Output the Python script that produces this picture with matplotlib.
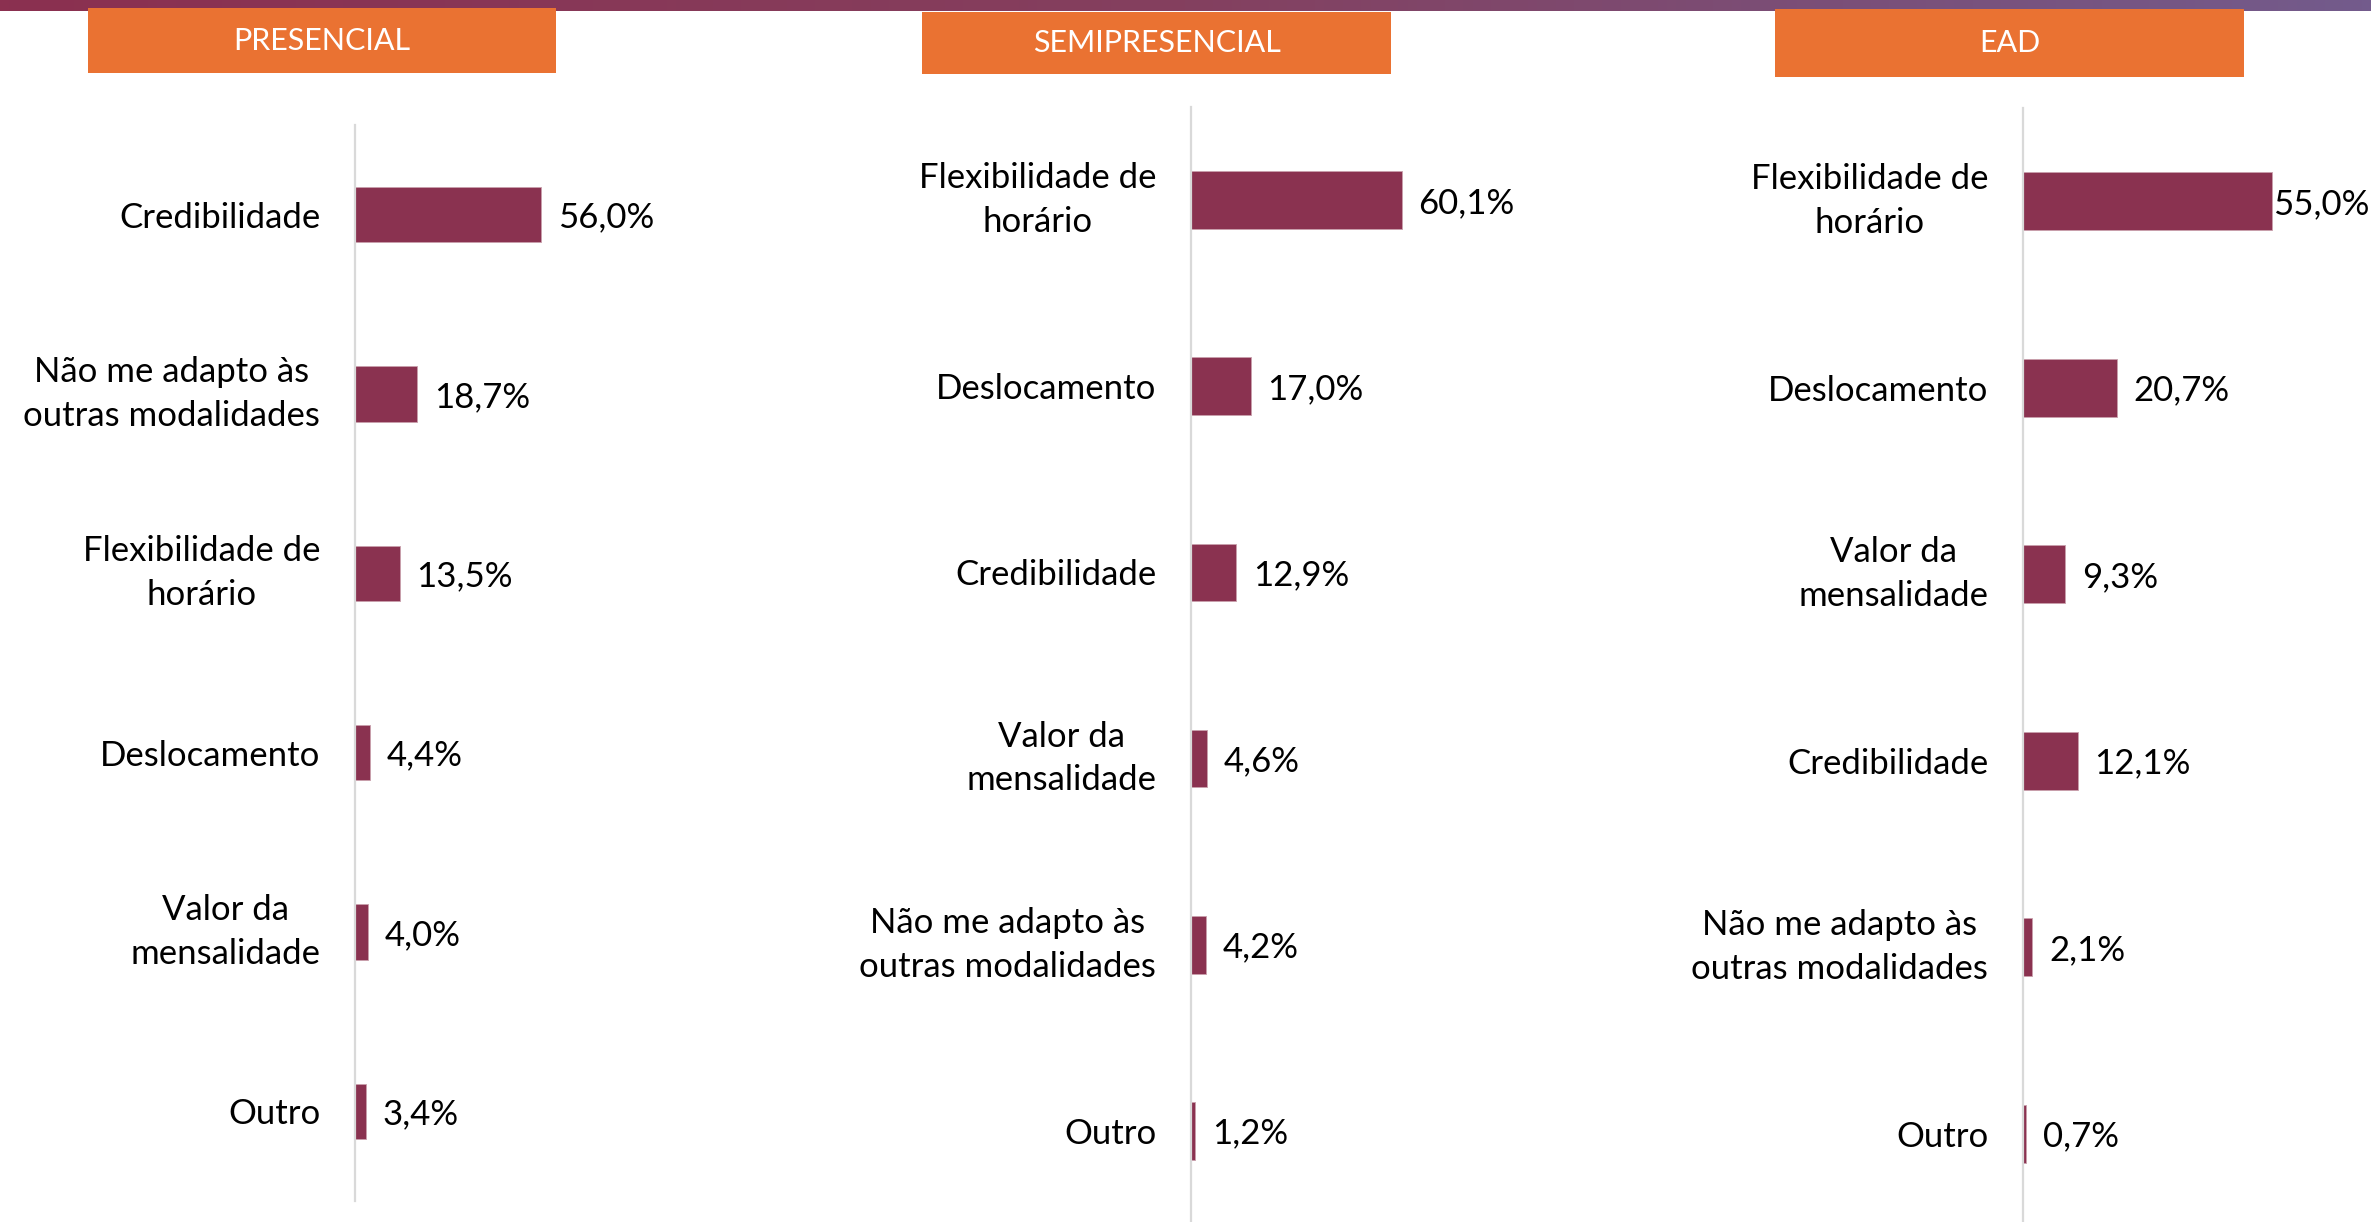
import matplotlib
matplotlib.use("Agg")
import matplotlib.pyplot as plt
import numpy as np
from matplotlib.colors import LinearSegmentedColormap
from matplotlib.patches import Rectangle

plt.rcParams['font.family'] = ['Lato', 'DejaVu Sans']

# ---------------- data ----------------
titles = ["PRESENCIAL", "SEMIPRESENCIAL", "EAD"]

cats_presencial = ["Credibilidade", "Não me adapto às\noutras modalidades",
                   "Flexibilidade de\nhorário", "Deslocamento",
                   "Valor da\nmensalidade", "Outro"]
vals_presencial = [56.0, 18.7, 13.5, 4.4, 4.0, 3.4]

cats_semi = ["Flexibilidade de\nhorário", "Deslocamento", "Credibilidade",
             "Valor da\nmensalidade", "Não me adapto às\noutras modalidades", "Outro"]
vals_semi = [60.1, 17.0, 12.9, 4.6, 4.2, 1.2]

cats_ead = ["Flexibilidade de\nhorário", "Deslocamento", "Valor da\nmensalidade",
            "Credibilidade", "Não me adapto às\noutras modalidades", "Outro"]
vals_ead = [55.0, 20.7, 9.3, 12.1, 2.1, 0.7]

# ---------------- style ----------------
W, H = 2371, 1222
BAR = "#8A3250"
ORANGE = "#EA7232"
AXIS = "#D9D9D9"
LABEL_FS = 25
HEAD_FS = 22

fig = plt.figure(figsize=(W / 100, H / 100), dpi=100)

# top gradient stripe
gax = fig.add_axes([0, 1 - 11 / H, 1, 11 / H])
cmap = LinearSegmentedColormap.from_list("g", ["#8B3050", "#84405F", "#735B8C"])
gax.imshow(np.linspace(0, 1, 256)[None, :], aspect="auto", cmap=cmap)
gax.set_axis_off()

# panel layout: axis x, top, bottom, width (px), px per percent
panels = [
    dict(x=355, top=125, bot=1201, w=520, ppp=3.32, cats=cats_presencial, vals=vals_presencial),
    dict(x=1191, top=107, bot=1224, w=520, ppp=3.51, cats=cats_semi, vals=vals_semi),
    dict(x=2023, top=108, bot=1227, w=348, ppp=4.52, cats=cats_ead, vals=vals_ead),
]
headers = [(88, 8, 468, 65), (922, 12, 469, 62), (1775, 9, 469, 68)]

fig.canvas.draw()
renderer = fig.canvas.get_renderer()

for p in panels:
    ax = fig.add_axes([p["x"] / W, 1 - p["bot"] / H, p["w"] / W, (p["bot"] - p["top"]) / H])
    n = len(p["vals"])
    y = np.arange(n)
    ax.barh(y, p["vals"], height=0.31, color=BAR, edgecolor="#C9A0AC", linewidth=0.6)
    ax.set_xlim(0, p["w"] / p["ppp"])
    ax.set_ylim(n - 0.5, -0.5)
    for s in ["top", "right", "bottom"]:
        ax.spines[s].set_visible(False)
    ax.spines["left"].set_color(AXIS)
    ax.spines["left"].set_linewidth(1.6)
    ax.set_xticks([])
    ax.set_yticks(y)
    ax.set_yticklabels(p["cats"], fontsize=LABEL_FS)
    ax.tick_params(axis="y", length=0, pad=25)
    for lbl in ax.get_yticklabels():
        lbl.set_multialignment("center")
        if "\n" in lbl.get_text():
            lbl.set_linespacing(1.45)
            lbl.set_verticalalignment("center")
    ax.patch.set_alpha(0)
    for yi, v in zip(y, p["vals"]):
        txt = f"{v:.1f}".replace(".", ",") + "%"
        t = ax.annotate(txt, (v, yi), xytext=(12, -2), textcoords="offset points",
                        ha="left", va="center", fontsize=LABEL_FS, color="black",
                        annotation_clip=False)
        bb = t.get_window_extent(renderer=renderer)
        if bb.x1 > W - 4:
            t.set_position((1, -2))

for (x0, y0, w, h), title in zip(headers, titles):
    fig.patches.append(Rectangle((x0 / W, 1 - (y0 + h) / H), w / W, h / H,
                                 transform=fig.transFigure, facecolor=ORANGE,
                                 edgecolor="none", zorder=5))
    fig.text((x0 + w / 2) / W, 1 - (y0 + h / 2) / H, title, ha="center", va="center",
             color="white", fontsize=HEAD_FS, zorder=6)

fig.savefig("out.png", dpi=100)
